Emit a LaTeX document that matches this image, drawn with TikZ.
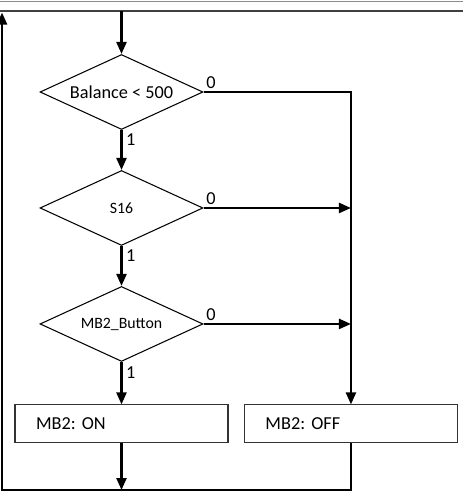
\documentclass[tikz,border=0pt]{standalone}
\usepackage{fontspec}
\setmainfont{Carlito}
\usetikzlibrary{shapes.geometric,arrows.meta}

\tikzset{
  decision/.style={diamond, draw, line width=0.6pt, aspect=2.17,
    minimum width=3.26cm, minimum height=1.5cm, inner sep=0pt},
  action/.style={rectangle, draw=black!80, line width=0.6pt,
    minimum width=4.26cm, minimum height=0.76cm, text width=3.42cm,
    inner xsep=0.42cm, inner ysep=0pt, align=left},
  flow/.style={line width=1.3pt},
  >={Triangle[length=0.24cm,width=0.2cm]}
}

\begin{document}
\frenchspacing
\begin{tikzpicture}[x=0.02cm, y=-0.02cm, node distance=2.32cm, auto,
    font=\fontsize{10.4}{12}\selectfont]
  \useasboundingbox (0,0) rectangle (463,491);
  % rules at the top
  \draw[black!45, line width=1pt] (0,1.5) -- (463,1.5);
  \draw[black!75, line width=0.8pt] (0,11) -- (463,11);
  \coordinate (entry) at (121.5,11);
  \coordinate (exit) at (121.5,490);
  \coordinate (back) at (2,490);
  \coordinate (top) at (2,12.5);

  \node[decision] (bal) at (121.5,92) {Balance < 500};
  \node[decision, below of=bal, font=\fontsize{9}{11}\selectfont] (s16) {S16};
  \node[decision, below of=s16, font=\fontsize{9}{11}\selectfont] (btn) {MB2\_Button};
  \node[action, below of=btn, node distance=2cm] (on) {MB2: ON};
  \node[action, right of=on, node distance=4.59cm] (off) {MB2: OFF};

  \draw[flow,->] (entry) -- (bal);
  \draw[flow,->] (bal) to node[near start, inner sep=2pt] {1} (s16);
  \draw[flow,->] (s16) to node[near start, inner sep=2pt] {1} (btn);
  \draw[flow,->] (btn) to node[near start, inner sep=2pt] {1} (on);
  \draw[flow,->] (bal.east) node[above right, inner sep=1pt] {0} -| (off);
  \draw[flow,->] (s16.east) node[above right, inner sep=1pt] {0} -- (s16.east -| off);
  \draw[flow,->] (btn.east) node[above right, inner sep=1pt] {0} -- (btn.east -| off);
  \draw[flow,->] (on) -- (exit);
  \draw[flow,->] (off) |- (back) -- (top);
\end{tikzpicture}
\end{document}
